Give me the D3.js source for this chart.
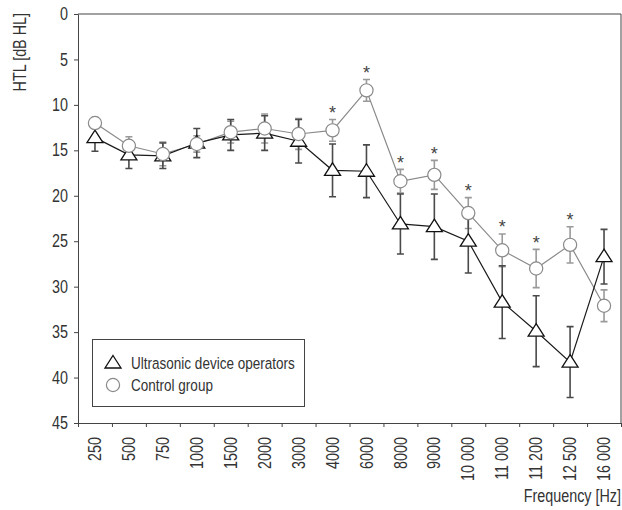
<!DOCTYPE html>
<html>
<head>
<meta charset="utf-8">
<script src="https://cdn.jsdelivr.net/npm/d3@7"></script>
<style>
  body { margin: 0; background: #fff; }
  svg text { font-family: "Liberation Sans", Arial, sans-serif; fill: #333; }
</style>
</head>
<body>
<svg id="chart" width="622" height="510"></svg>
<script>
// frequencies (x categories)
var freqs = ["250", "500", "750", "1000", "1500", "2000", "3000", "4000", "6000",
  "8000", "9000", "10 000", "11 000", "11 200", "12 500", "16 000"];

// Ultrasonic device operators: mean HTL and SD
var opMean = [13.6, 15.5, 15.6, 14.2, 13.3, 13.1, 14.0, 17.2, 17.3, 23.1, 23.4, 25.0, 31.7, 34.9, 38.3, 26.7];
var opSd = [1.5, 1.5, 1.4, 1.6, 1.7, 1.9, 2.4, 2.9, 2.9, 3.3, 3.6, 3.5, 4.0, 3.9, 3.9, 3.0];

// Control group: mean HTL and SD
var ctMean = [12.0, 14.5, 15.4, 14.3, 13.0, 12.6, 13.2, 12.8, 8.4, 18.4, 17.7, 21.9, 26.0, 28.0, 25.4, 32.1];
var ctSd = [0.6, 1.0, 1.3, 0.9, 1.2, 1.6, 1.7, 1.2, 1.2, 1.3, 1.6, 1.7, 1.8, 2.1, 2.0, 1.75];

// significant difference marks
var signif = [0, 0, 0, 0, 0, 0, 0, 1, 1, 1, 1, 1, 1, 1, 1, 0];

var yTicks = [0, 5, 10, 15, 20, 25, 30, 35, 40, 45];

var svg = d3.select("#chart");

const plotLeft = 78, plotRight = 621, plotTop = 14, plotBottom = 423;
const squeeze = "scale(0.82,1)"; // condensed look
const fontSize = "17.5px";

var x = d3.scaleBand().domain(freqs).range([plotLeft, plotRight]).padding(0);
var xEdge = d3.scaleLinear().domain([0, freqs.length]).range([plotLeft, plotRight]);
var y = d3.scaleLinear().domain([0, 45]).range([plotTop, plotBottom]);

var axisColor = "#444";

// frame (top and right)
svg.append("path")
  .attr("d", "M" + plotLeft + "," + plotTop + "H" + plotRight + "V" + plotBottom)
  .attr("fill", "none")
  .attr("stroke", axisColor)
  .attr("stroke-width", 1);

// y axis
var gy = svg.append("g")
  .attr("transform", "translate(" + plotLeft + ",0)")
  .call(d3.axisLeft(y).tickValues(yTicks).tickSize(4).tickPadding(6).tickSizeOuter(0));
gy.selectAll("text")
  .attr("x", 0)
  .attr("transform", "translate(-10,0)" + squeeze)
  .style("font-size", fontSize)
  .attr("fill", "#333");

// x axis ticks at band edges
svg.append("g")
  .attr("transform", "translate(0," + plotBottom + ")")
  .call(d3.axisBottom(xEdge).tickValues(d3.range(0, freqs.length + 1)).tickSize(4).tickFormat("").tickSizeOuter(0));

// x labels
var gx = svg.append("g")
  .attr("transform", "translate(0," + plotBottom + ")")
  .call(d3.axisBottom(x).tickSize(0).tickSizeOuter(0));
gx.select(".domain").remove();
gx.selectAll("text")
  .attr("transform", "rotate(-90)translate(-14,0)" + squeeze)
  .attr("x", 0)
  .attr("y", 0)
  .attr("dy", "0.35em")
  .style("text-anchor", "end")
  .style("font-size", fontSize)
  .attr("fill", "#333");

svg.selectAll(".domain, .tick line").attr("stroke", axisColor);

// axis titles
svg.append("text")
  .attr("transform", "translate(26,13)rotate(-90)" + squeeze)
  .style("text-anchor", "end")
  .style("font-size", fontSize)
  .text("HTL [dB HL]");

svg.append("text")
  .attr("transform", "translate(621,502)" + squeeze)
  .style("text-anchor", "end")
  .style("font-size", fontSize)
  .text("Frequency [Hz]");

const cx = (i) => x(freqs[i]) + x.bandwidth() / 2;

// error bars
const drawErr = (means, sds, color) => {
  var g = svg.append("g").attr("stroke", color).attr("stroke-width", 1.6).attr("fill", "none");
  means.forEach((m, i) => {
    var xc = cx(i);
    var y1 = y(m - sds[i]), y2 = y(m + sds[i]);
    g.append("path")
      .attr("d", "M" + xc + "," + y1 + "V" + y2 +
        "M" + (xc - 3.5) + "," + y1 + "H" + (xc + 3.5) +
        "M" + (xc - 3.5) + "," + y2 + "H" + (xc + 3.5));
  });
};

drawErr(ctMean, ctSd, "#9a9a9a");
drawErr(opMean, opSd, "#4a4a4a");

var line = d3.line().x((d, i) => cx(i)).y(d => y(d));

svg.append("path")
  .datum(ctMean)
  .attr("d", line)
  .attr("fill", "none")
  .attr("stroke", "#8a8a8a")
  .attr("stroke-width", 1.2);

svg.append("path")
  .datum(opMean)
  .attr("d", line)
  .attr("fill", "none")
  .attr("stroke", "#1a1a1a")
  .attr("stroke-width", 1.2);

// markers
var tri = "M0,-7.5L8,5L-8,5Z";

svg.append("g").selectAll("path")
  .data(opMean)
  .join("path")
  .attr("d", tri)
  .attr("transform", (d, i) => "translate(" + cx(i) + "," + y(d) + ")")
  .attr("fill", "#fff")
  .attr("stroke", "#111")
  .attr("stroke-width", 1.3);

svg.append("g").selectAll("circle")
  .data(ctMean)
  .join("circle")
  .attr("cx", (d, i) => cx(i))
  .attr("cy", d => y(d))
  .attr("r", 6.6)
  .attr("fill", "#fff")
  .attr("stroke", "#8a8a8a")
  .attr("stroke-width", 1.2);

// asterisks above control error bars
var starIdx = d3.range(freqs.length).filter(i => signif[i]);
svg.append("g").selectAll("text")
  .data(starIdx)
  .join("text")
  .attr("x", i => cx(i))
  .attr("y", i => y(ctMean[i] - ctSd[i]) - 0.5)
  .style("text-anchor", "middle")
  .style("font-size", "18px")
  .style("fill", "#444")
  .text("*");

// legend
var lg = svg.append("g");
lg.append("rect")
  .attr("x", 92.5).attr("y", 339.5)
  .attr("width", 212).attr("height", 67)
  .attr("fill", "#fff")
  .attr("stroke", axisColor);
lg.append("path")
  .attr("d", tri)
  .attr("transform", "translate(113,363)")
  .attr("fill", "#fff")
  .attr("stroke", "#111")
  .attr("stroke-width", 1.3);
lg.append("circle")
  .attr("cx", 113).attr("cy", 385).attr("r", 6.6)
  .attr("fill", "#fff").attr("stroke", "#8a8a8a").attr("stroke-width", 1.2);
lg.append("text").attr("transform", "translate(131,369)" + squeeze).style("font-size", "16.5px").text("Ultrasonic device operators");
lg.append("text").attr("transform", "translate(131,391)" + squeeze).style("font-size", "16.5px").text("Control group");
</script>
</body>
</html>
